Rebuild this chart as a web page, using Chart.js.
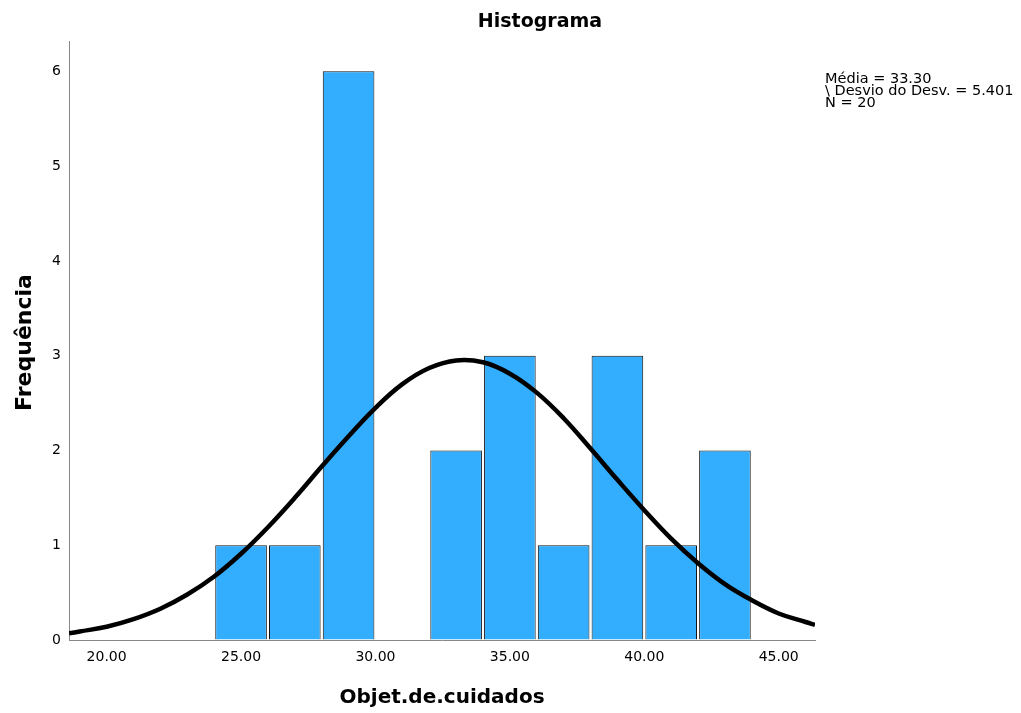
<!DOCTYPE html>
<html>
<head>
<meta charset="utf-8">
<script src="https://cdn.jsdelivr.net/npm/chart.js@4.4.1/dist/chart.umd.min.js"></script>
<style>
  body { margin: 0; background: #fff; }
  #wrap { width: 1021px; height: 713px; position: relative; }
</style>
</head>
<body>
<div id="wrap"><canvas id="histChart"></canvas></div>
<script>
// bin centres (width 2) and frequencies
const binCenters = [25, 27, 29, 31, 33, 35, 37, 39, 41, 43];
const binCounts = [1, 1, 6, null, 2, 3, 1, 3, 1, 2];

// normal curve, read at each x
const curveX = [18.6, 19, 20, 21, 22, 23, 24, 25, 26, 27, 28, 29, 30, 31, 32, 33, 34, 35, 36, 37, 38, 39, 40, 41, 42, 43, 44, 45, 46, 46.35];
const curveY = [0.07, 0.09, 0.14, 0.22, 0.33, 0.48, 0.67, 0.91, 1.19, 1.50, 1.83, 2.15, 2.45, 2.70, 2.87, 2.95, 2.93, 2.81, 2.61, 2.34, 2.02, 1.69, 1.37, 1.07, 0.81, 0.59, 0.42, 0.28, 0.19, 0.16];

const statLines = ['Média = 33.30', '\\ Desvio do Desv. = 5.401', 'N = 20'];

const labelFont = 'DejaVu Sans';

// chart title, axis titles and the stats box
const textPlugin = {
  id: 'textPlugin',
  afterDraw(chart) {
    const ctx = chart.ctx;
    const area = chart.chartArea;
    ctx.save();
    ctx.fillStyle = '#000';
    ctx.textBaseline = 'middle';

    ctx.textAlign = 'center';
    ctx.font = 'bold 19px ' + labelFont;
    ctx.fillText('Histograma', 540, 22);

    ctx.font = 'bold 20px ' + labelFont;
    ctx.fillText('Objet.de.cuidados', (area.left + area.right) / 2, 698);

    ctx.save();
    ctx.translate(25, (area.top + area.bottom) / 2 + 2);
    ctx.rotate(-Math.PI / 2);
    ctx.font = 'bold 22px ' + labelFont;
    ctx.fillText('Frequência', 0, 0);
    ctx.restore();

    ctx.textAlign = 'left';
    ctx.font = '14.5px ' + labelFont;
    statLines.forEach((s, i) => ctx.fillText(s, 825, 79 + i * 12));
    ctx.restore();
  }
};

new Chart(document.getElementById('histChart'), {
  type: 'bar',
  data: {
    datasets: [
      {
        type: 'line',
        data: curveX.map((x, i) => ({ x: x, y: curveY[i] })),
        borderColor: '#000',
        borderWidth: 4.5,
        pointRadius: 0,
        tension: 0.4,
        fill: false,
        order: 0
      },
      {
        type: 'bar',
        data: binCenters.map((x, i) => ({ x: x, y: binCounts[i] })),
        backgroundColor: '#33aeff',
        borderColor: '#111',
        borderWidth: 1,
        barPercentage: 0.96,
        categoryPercentage: 1,
        order: 1
      }
    ]
  },
  options: {
    responsive: true,
    maintainAspectRatio: false,
    animation: false,
    layout: { padding: { top: 41, right: 206, bottom: 0, left: 0 } },
    plugins: {
      legend: { display: false },
      tooltip: { enabled: false }
    },
    scales: {
      x: {
        type: 'linear',
        min: 18.6,
        max: 46.35,
        offset: false,
        afterFit: s => { s.height = 73; },
        grid: { drawOnChartArea: false, drawTicks: false },
        border: { color: '#888', width: 1 },
        ticks: {
          stepSize: 5,
          includeBounds: false,
          padding: 9,
          color: '#000',
          font: { family: labelFont, size: 14 },
          callback: v => Number(v).toFixed(2)
        }
      },
      y: {
        min: 0,
        max: 6.32,
        afterFit: s => { s.width = 69; },
        grid: { drawOnChartArea: false, drawTicks: false },
        border: { color: '#888', width: 1 },
        ticks: {
          stepSize: 1,
          includeBounds: false,
          padding: 8,
          color: '#000',
          font: { family: labelFont, size: 14 }
        }
      }
    }
  },
  plugins: [textPlugin]
});
</script>
</body>
</html>
